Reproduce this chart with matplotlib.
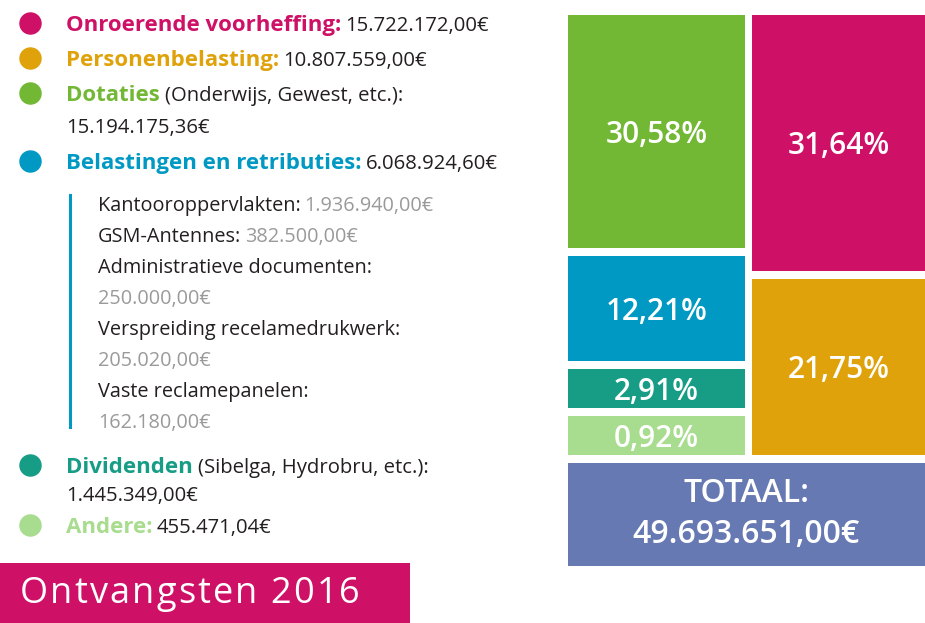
import matplotlib.pyplot as plt

plt.rcParams['font.family'] = ['Open Sans', 'DejaVu Sans']

# Ontvangsten 2016 - gegevens
names = ["Onroerende voorheffing", "Personenbelasting", "Dotaties",
         "Belastingen en retributies", "Dividenden", "Andere"]
notes = ["", "", "(Onderwijs, Gewest, etc.)", "", "(Sibelga, Hydrobru, etc.)", ""]
amounts = [15722172.00, 10807559.00, 15194175.36, 6068924.60, 1445349.00, 455471.04]
colors = ["#CE1166", "#E0A20A", "#72B835", "#0099C4", "#179C85", "#A8DC8E"]

sub_names = ["Kantooroppervlakten", "GSM-Antennes", "Administratieve documenten",
             "Verspreiding recelamedrukwerk", "Vaste reclamepanelen"]
sub_amounts = [1936940.00, 382500.00, 250000.00, 205020.00, 162180.00]

title = "Ontvangsten 2016"
total_label = "TOTAAL:"
total_color = "#6679B2"
dark = "#231F20"
grey = "#9A9A9A"


def eur(v):
    s = f"{v:,.2f}"
    return s.replace(",", "X").replace(".", ",").replace("X", ".") + "€"


def pct(v):
    return f"{v:.2f}".replace(".", ",") + "%"


fig = plt.figure(figsize=(9.25, 6.23), dpi=100)
ax = fig.add_axes([0, 0, 1, 1])
ax.set_xlim(0, 925)
ax.set_ylim(623, 0)
ax.axis('off')
renderer = fig.canvas.get_renderer()


def write(x, y, parts, gap=5):
    # stukken tekst na elkaar op dezelfde basislijn
    for s, c, w, fs in parts:
        t = ax.text(x, y, s, color=c, fontweight=w, fontsize=fs, va='baseline')
        bb = t.get_window_extent(renderer)
        x = ax.transData.inverted().transform((bb.x1, bb.y0))[0] + gap
    return x


LBL, VAL, SUB = 16, 14.6, 14.3
tx = 66

# legende links
cy = 23
for i in range(len(names)):
    ax.scatter([30], [cy], s=230, color=colors[i], zorder=3)
    if notes[i]:
        write(tx, cy + 8, [(names[i], colors[i], 'bold', LBL),
                           (notes[i] + ":", dark, 'normal', VAL)])
        cy += 33 if i < 3 else 29
        write(tx, cy + 7, [(eur(amounts[i]), dark, 'normal', VAL)])
    else:
        write(tx, cy + 8, [(names[i] + ":", colors[i], 'bold', LBL),
                           (eur(amounts[i]), dark, 'normal', VAL)], gap=4)
    if i == 3:
        # detail belastingen en retributies
        sy = cy + 43
        top = sy - 9
        for n, a in zip(sub_names, sub_amounts):
            if len(n) > 19:
                write(98, sy + 7, [(n + ":", dark, 'normal', SUB)])
                sy += 31
                write(98, sy + 7, [(eur(a), grey, 'normal', SUB)])
            else:
                write(98, sy + 7, [(n + ":", dark, 'normal', SUB),
                                   (eur(a), grey, 'normal', SUB)], gap=4)
            sy += 31
        ax.plot([70, 70], [top, sy - 25], color=colors[3], lw=2.2)
        cy = sy + 13
    elif i < 3:
        cy += 35
    else:
        cy += 31

# titelbalk
ax.bar(0, 62, width=410, bottom=563, align='edge', color=colors[0])
write(20, 603, [(ch, "white", 'normal', 26) for ch in title], gap=2.1)

# treemap rechts
total = sum(amounts)
shares = [a / total * 100 for a in amounts]
gap = 8
y_top, y_bot = 15, 455
columns = [(568, 177, 177, [2, 3, 4, 5], 2.7), (752, 190, 173, [0, 1], 0)]
for x0, w, vis_w, idx, pad in columns:
    weights = [max(shares[k] + pad, 5.5) for k in idx]
    avail = (y_bot - y_top) - gap * (len(idx) - 1)
    y = y_top
    for k, wt in zip(idx, weights):
        h = avail * wt / sum(weights)
        ax.bar(x0, h, width=w, bottom=y, align='edge', color=colors[k])
        ax.text(x0 + vis_w / 2, y + h / 2 + 3, pct(shares[k]), color="white",
                fontsize=21.5, fontweight='semibold', ha='center', va='center')
        y += h + gap

ax.bar(568, 103, width=370, bottom=463, align='edge', color=total_color)
ax.text(746, 514, total_label + "\n" + eur(total), color="white", fontsize=23,
        fontweight='semibold', ha='center', va='center', linespacing=1.3)

fig.savefig("out.png", dpi=100)
